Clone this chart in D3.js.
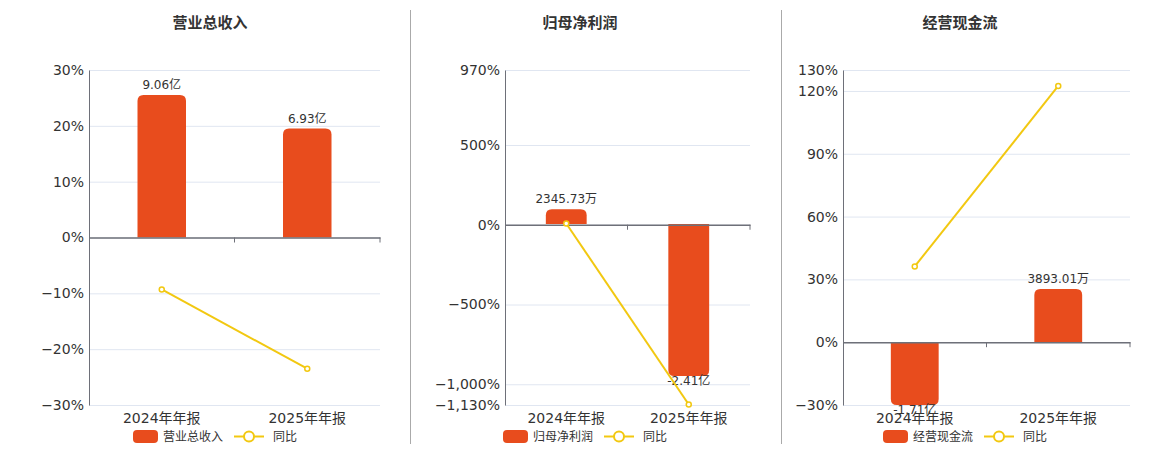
<!DOCTYPE html>
<html>
<head>
<meta charset="utf-8">
<script src="https://cdn.jsdelivr.net/npm/d3@7"></script>
<style>
  body { margin: 0; background: #fff; }
  svg text { font-family: "DejaVu Sans", "Noto Sans CJK SC", sans-serif; }
</style>
</head>
<body>
<script>
const titles = ["营业总收入", "归母净利润", "经营现金流"];
const periods = ["2024年年报", "2025年年报"];

// bar values in 亿
const revenue = [9.06, 6.93];
const netProfit = [0.234573, -2.41];
const cashFlow = [-1.71, 0.389301];
const barLabels = [["9.06亿", "6.93亿"], ["2345.73万", "-2.41亿"], ["-1.71亿", "3893.01万"]];

// year-on-year %
const revenueYoy = [-9.3, -23.5];
const profitYoy = [8, -1127];
const cashYoy = [36.2, 122.4];

const yTicks = [[-30, -20, -10, 0, 10, 20, 30], [-1130, -1000, -500, 0, 500, 970], [-30, 0, 30, 60, 90, 120, 130]];

const barColor = "#e84c1d";
const lineColor = "#f2c811";

const panels = [
  {left: 89, right: 380, center: 210, lineDomain: [-30, 30], barDomain: [-10.65, 10.65], bars: revenue, yoy: revenueYoy},
  {left: 505, right: 750, center: 580, lineDomain: [-1130, 970], barDomain: [-2.87, 2.44], bars: netProfit, yoy: profitYoy},
  {left: 843, right: 1130, center: 960, lineDomain: [-30, 130], barDomain: [-0.4635, 2.0], bars: cashFlow, yoy: cashYoy}
];

const plotTop = 70, plotBottom = 405;

const svg = d3.select("body").append("svg")
  .attr("width", 1160)
  .attr("height", 450);

// divider lines
svg.selectAll(".divider")
  .data([410.5, 781.5])
  .enter()
  .append("line")
  .attr("x1", d => d).attr("x2", d => d)
  .attr("y1", 10).attr("y2", 444)
  .attr("stroke", "#aaa");

// bar path with rounded far end
const barPath = (x, w, y0, y1, r) => {
  const dir = y1 < y0 ? 1 : -1;
  const h = Math.abs(y1 - y0);
  r = Math.min(r, h, w / 2);
  return `M${x},${y0} L${x},${y1 + dir * r} Q${x},${y1} ${x + r},${y1} L${x + w - r},${y1} Q${x + w},${y1} ${x + w},${y1 + dir * r} L${x + w},${y0} Z`;
};

panels.forEach((p, pi) => {
  const g = svg.append("g");

  const x = d3.scaleBand().domain(periods).range([p.left, p.right]);
  const y = d3.scaleLinear().domain(p.lineDomain).range([plotBottom, plotTop]);
  const yBar = d3.scaleLinear().domain(p.barDomain).range([plotBottom, plotTop]).clamp(true);

  // title
  g.append("text")
    .attr("x", p.center)
    .attr("y", 28)
    .attr("text-anchor", "middle")
    .style("font-size", "15px")
    .style("font-weight", "bold")
    .style("fill", "#333")
    .text(titles[pi]);

  // grid
  g.append("g")
    .attr("transform", `translate(${p.left},0)`)
    .call(d3.axisLeft(y).tickValues(yTicks[pi]).tickSize(-(p.right - p.left)).tickFormat(""))
    .call(a => a.select(".domain").remove())
    .call(a => a.selectAll("line").attr("stroke", "#e0e6f1"));

  // y axis
  g.append("g")
    .attr("transform", `translate(${p.left},0)`)
    .call(d3.axisLeft(y).tickValues(yTicks[pi]).tickSize(0).tickPadding(5)
      .tickFormat(d => d3.format(",")(d) + "%"))
    .call(a => a.select(".domain").attr("stroke", "#6e7079"))
    .call(a => a.selectAll("text").style("font-size", "14px").style("fill", "#333"));

  // category labels
  g.append("g")
    .attr("transform", `translate(0,${plotBottom})`)
    .call(d3.axisBottom(x).tickSize(0).tickPadding(8))
    .call(a => a.select(".domain").remove())
    .call(a => a.selectAll("text").style("font-size", "14px").style("fill", "#333"));

  // bars
  const bw = x.bandwidth() / 3;
  const y0 = yBar(0);
  g.selectAll(".bar")
    .data(p.bars)
    .enter()
    .append("path")
    .attr("class", "bar")
    .attr("d", (d, i) => barPath(x(periods[i]) + x.bandwidth() / 2 - bw / 2, bw, y0, yBar(d), 6))
    .attr("fill", barColor);

  g.selectAll(".barLabel")
    .data(p.bars)
    .enter()
    .append("text")
    .attr("x", (d, i) => x(periods[i]) + x.bandwidth() / 2)
    .attr("y", d => d >= 0 ? yBar(d) - 6 : yBar(d) + 9)
    .attr("text-anchor", "middle")
    .style("font-size", "12px")
    .style("fill", "#333")
    .text((d, i) => barLabels[pi][i]);

  // zero line with ticks at category boundaries
  g.append("g")
    .attr("transform", `translate(0,${y(0)})`)
    .call(d3.axisBottom(x).tickValues([]).tickSizeOuter(0))
    .call(a => a.select(".domain").attr("stroke", "#6e7079").attr("stroke-width", 1.5));
  g.selectAll(".zeroTick")
    .data(periods)
    .enter()
    .append("line")
    .attr("x1", d => x(d) + x.bandwidth())
    .attr("x2", d => x(d) + x.bandwidth())
    .attr("y1", y(0))
    .attr("y2", y(0) + 5)
    .attr("stroke", "#6e7079");

  // yoy line
  const line = d3.line()
    .x((d, i) => x(periods[i]) + x.bandwidth() / 2)
    .y(d => y(d));
  g.append("path")
    .datum(p.yoy)
    .attr("d", line)
    .attr("fill", "none")
    .attr("stroke", lineColor)
    .attr("stroke-width", 2);
  g.selectAll(".dot")
    .data(p.yoy)
    .enter()
    .append("circle")
    .attr("cx", (d, i) => x(periods[i]) + x.bandwidth() / 2)
    .attr("cy", d => y(d))
    .attr("r", 2.5)
    .attr("fill", "#fff")
    .attr("stroke", lineColor)
    .attr("stroke-width", 1.5);

  // legend, centred under the panel
  const lg = g.append("g")
    .attr("transform", `translate(${p.center - 77},430)`);
  lg.append("rect")
    .attr("width", 25).attr("height", 13).attr("rx", 4)
    .attr("fill", barColor);
  lg.append("text")
    .attr("x", 30).attr("y", 11)
    .style("font-size", "12px").style("fill", "#333")
    .text(titles[pi]);
  lg.append("line")
    .attr("x1", 101).attr("x2", 131).attr("y1", 6.5).attr("y2", 6.5)
    .attr("stroke", lineColor).attr("stroke-width", 2);
  lg.append("circle")
    .attr("cx", 116).attr("cy", 6.5).attr("r", 5)
    .attr("fill", "#fff").attr("stroke", lineColor).attr("stroke-width", 2);
  lg.append("text")
    .attr("x", 140).attr("y", 11)
    .style("font-size", "12px").style("fill", "#333")
    .text("同比");
});
</script>
</body>
</html>
